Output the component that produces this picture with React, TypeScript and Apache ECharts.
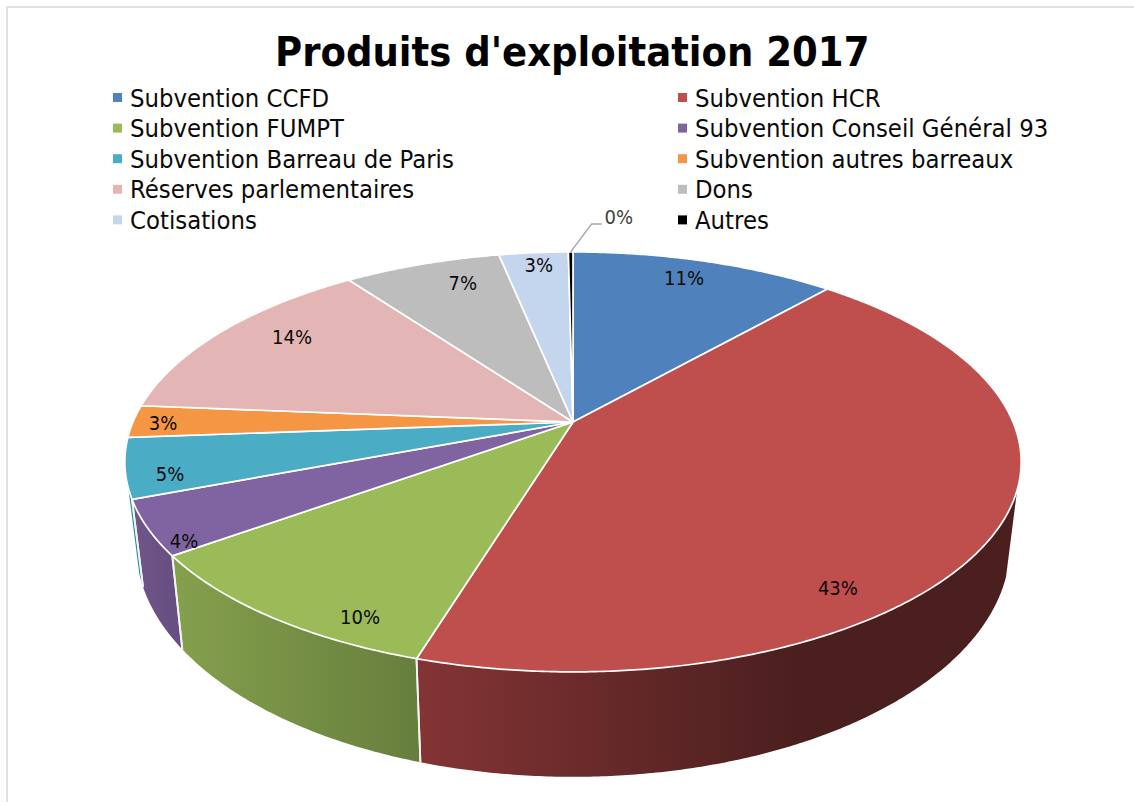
import React, { useEffect, useRef } from "react";
import * as echarts from "echarts";

const titleText = "Produits d'exploitation 2017";
const categories = [
  "Subvention CCFD",
  "Subvention HCR",
  "Subvention FUMPT",
  "Subvention Conseil Général 93",
  "Subvention Barreau de Paris",
  "Subvention autres barreaux",
  "Réserves parlementaires",
  "Dons",
  "Cotisations",
  "Autres",
];
const values = [11.49, 43.21, 10.3, 4.2, 4.6, 2.5, 13.7, 6.8, 3.0, 0.2];
const colors = ["#4F81BD", "#BE4F4D", "#9BBB59", "#8064A2", "#4BACC6", "#F59644", "#E3B6B5", "#BDBDBD", "#C4D6ED", "#000000"];
const wallColors: (string[] | null)[] = [
  null,
  ["#843434", "#4C1F1F"],
  ["#85A04D", "#677F3D"],
  ["#70558B", "#684F81"],
  ["#2F8EA3", "#2F8EA3"],
  null, null, null, null, null,
];
const wallGradientX = [
  [0, 1],
  [416, 790],
  [172, 416],
  [132, 172],
  [127, 132],
];
const legendLeft = [0, 2, 4, 6, 8].map((i) => categories[i]);
const legendRight = [1, 3, 5, 7, 9].map((i) => categories[i]);

// label anchors, in the coordinates of the unit disc (right, down)
const labelAnchors = [
  [0.292, -0.822],
  [0.521, 0.709],
  [-0.409, 0.814],
  [-0.795, 0.529],
  [-0.873, 0.245],
  [-0.931, 0.005],
  [-0.694, -0.456],
  [-0.288, -0.79],
  [-0.091, -0.909],
  [0.129, -1.254],
];

const FONT = '"DejaVu Sans Condensed", "DejaVu Sans", sans-serif';
const TILT = -0.19;
const topFace = { cx: 573, cy: 422, rx: 440, ry: 202.4 };
const bottomFace = { cx: 573, cy: 502, rx: 429, ry: 222.6 };
const WALL_FROM = (108.4 * Math.PI) / 180;
const WALL_TO = (252.2 * Math.PI) / 180;

function project(face: typeof topFace, u: number, v: number): number[] {
  const k = 1 + TILT * v;
  return [face.cx + (face.rx * u) / k, face.cy + (face.ry * v) / k];
}
function rim(face: typeof topFace, a: number): number[] {
  return project(face, Math.sin(a), -Math.cos(a));
}
function arc(face: typeof topFace, a0: number, a1: number): number[][] {
  const n = Math.max(2, Math.ceil((a1 - a0) / 0.008));
  const pts: number[][] = [];
  for (let i = 0; i <= n; i++) pts.push(rim(face, a0 + ((a1 - a0) * i) / n));
  return pts;
}

const total = values.reduce((s, x) => s + x, 0);

function makeRenderItem(index: number) {
  return (_params: any, api: any) => {
    const value = api.value(0);
    const before = api.value(1);
    const a0 = (before / total) * Math.PI * 2;
    const a1 = ((before + value) / total) * Math.PI * 2;
    const children: any[] = [];

    const w0 = Math.max(a0, WALL_FROM);
    const w1 = Math.min(a1, WALL_TO);
    const wall = wallColors[index];
    if (w1 > w0 && wall) {
      const [gx0, gx1] = wallGradientX[index];
      const points = [...arc(topFace, w0, w1), ...arc(bottomFace, w0, w1).reverse()];
      children.push({
        type: "polygon",
        shape: { points },
        style: {
          fill: new echarts.graphic.LinearGradient(gx0, 0, gx1, 0, [
            { offset: 0, color: wall[0] },
            { offset: 1, color: wall[1] },
          ], true),
          stroke: null,
        },
        z2: 1,
      });
      [w0, w1].forEach((a) => {
        if (Math.abs(a - WALL_FROM) < 1e-6 || Math.abs(a - WALL_TO) < 1e-6) return;
        const p = rim(topFace, a);
        const q = rim(bottomFace, a);
        children.push({
          type: "line",
          shape: { x1: p[0], y1: p[1], x2: q[0], y2: q[1] },
          style: { stroke: "#F4F4F4", lineWidth: 1.8 },
          z2: 2,
        });
      });
    }

    const apex = project(topFace, 0, 0);
    children.push({
      type: "polygon",
      shape: { points: [apex, ...arc(topFace, a0, a1)] },
      style: { fill: colors[index], stroke: "#FFFFFF", lineWidth: 1.7, lineJoin: "round" },
      z2: 3,
    });

    const [lu, lv] = labelAnchors[index];
    const lp = project(topFace, lu, lv);
    const share = Math.round((value / total) * 100);
    const small = share === 0;
    children.push({
      type: "text",
      x: lp[0],
      y: lp[1],
      style: {
        text: share + "%",
        font: `20px ${FONT}`,
        fill: small ? "#404040" : "#0A0A0A",
        align: "center",
        verticalAlign: "middle",
      },
      z2: 20,
    });
    if (small) {
      const s = rim(topFace, (a0 + a1) / 2);
      children.push({
        type: "polyline",
        shape: { points: [s, [s[0] + 21, s[1] - 28], [s[0] + 31, s[1] - 28]] },
        style: { stroke: "#A6A6A6", lineWidth: 1.5, fill: null },
        z2: 19,
      });
    }
    return { type: "group", children };
  };
}

export default function App() {
  const ref = useRef<HTMLDivElement>(null);
  useEffect(() => {
    const chart = echarts.init(ref.current!, undefined, { renderer: "svg" });
    let running = 0;
    const legendBase = {
      orient: "vertical",
      top: 85,
      icon: "rect",
      itemWidth: 9,
      itemHeight: 9,
      itemGap: 5.6,
      selectedMode: false,
      textStyle: { fontFamily: FONT, fontSize: 25.4, color: "#0A0A0A", lineHeight: 20, padding: [0, 0, 0, 3] },
      padding: 0,
    };
    chart.setOption({
      animation: false,
      color: colors,
      backgroundColor: "#FFFFFF",
      title: {
        text: titleText,
        left: 275,
        top: 31,
        padding: 0,
        textStyle: { fontFamily: FONT, fontWeight: "bold", fontSize: 41.2, color: "#000000" },
      },
      legend: [
        { ...legendBase, left: 113, data: legendLeft },
        { ...legendBase, left: 678, data: legendRight },
      ],
      graphic: [
        { type: "rect", shape: { x: 6, y: 6, width: 2, height: 796 }, style: { fill: "#E2E2E2" } },
        { type: "rect", shape: { x: 6, y: 6, width: 1128, height: 2 }, style: { fill: "#E2E2E2" } },
      ],
      series: categories.map((name, i) => {
        const row = [values[i], running];
        running += values[i];
        return {
          type: "custom",
          name,
          coordinateSystem: "none",
          itemStyle: { color: colors[i] },
          renderItem: makeRenderItem(i),
          data: [row],
        };
      }),
    });
    return () => chart.dispose();
  }, []);
  return <div ref={ref} style={{ position: "absolute", left: 0, top: 0, width: 1134, height: 802 }} />;
}
